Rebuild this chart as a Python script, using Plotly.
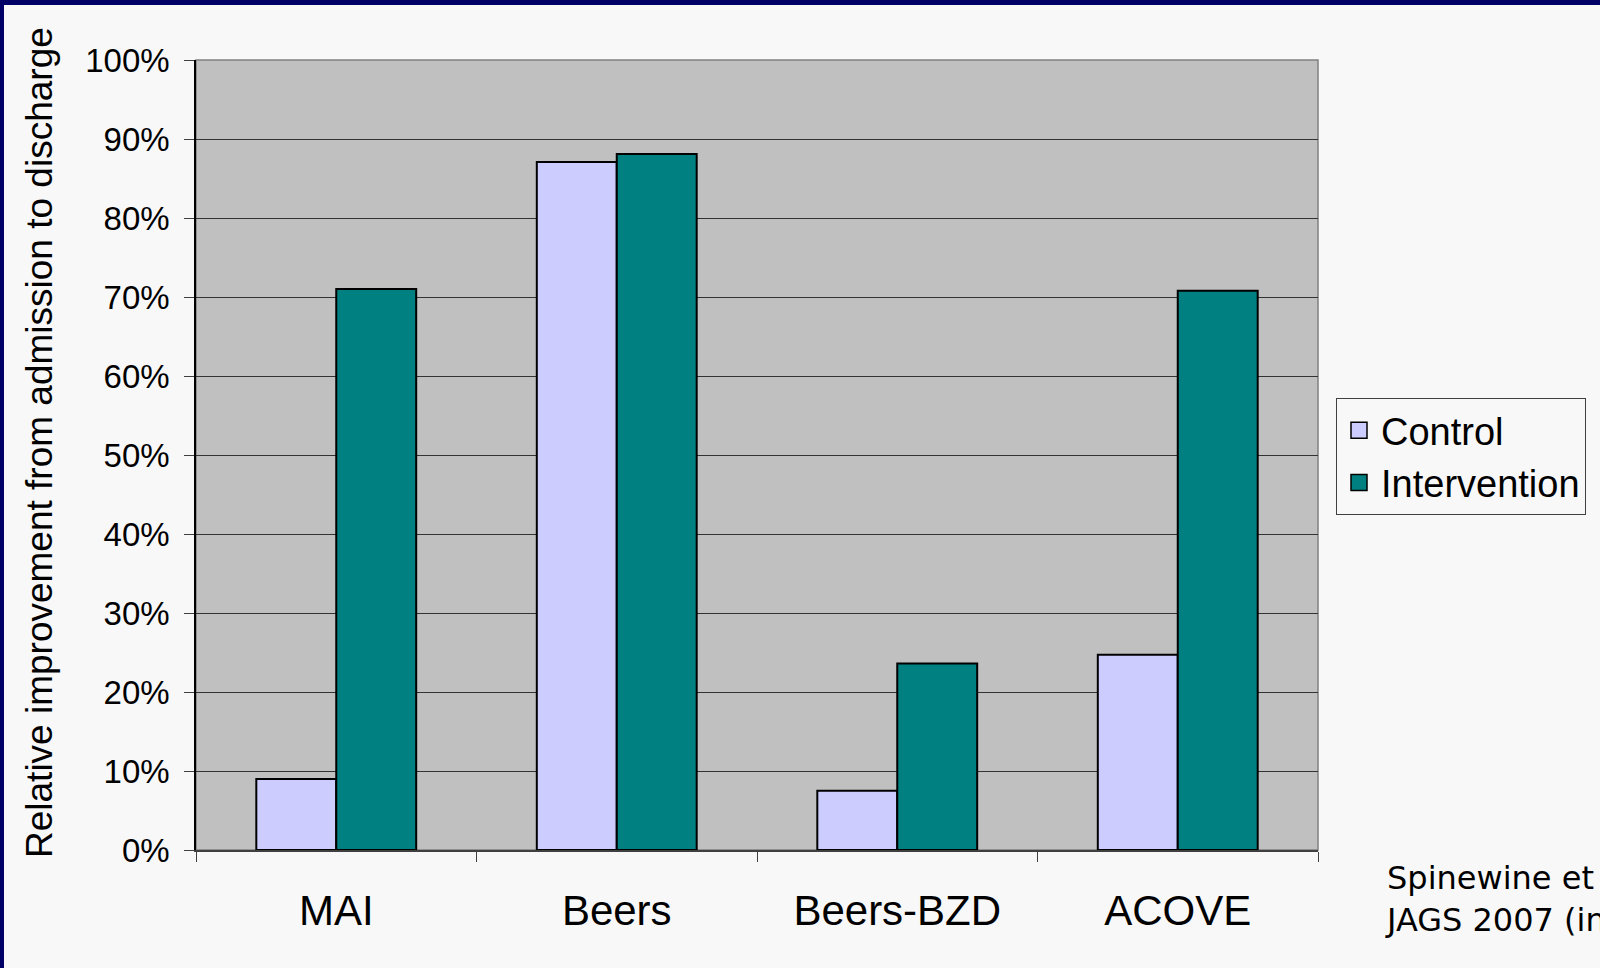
import plotly.graph_objects as go

categories = ["MAI", "Beers", "Beers-BZD", "ACOVE"]
control = [9.0, 87.1, 7.5, 24.7]
intervention = [71.0, 88.1, 23.6, 70.8]
y_ticks = list(range(0, 101, 10))
y_tick_labels = [f"{v}%" for v in y_ticks]

W, H = 1600, 968
L, R, T, B = 196, 1318, 60, 850
pw, ph = R - L, B - T

def px(x):
    return (x - L) / pw

def py(y):
    return (B - y) / ph

fig = go.Figure()
fig.add_trace(go.Bar(x=categories, y=control, name="Control",
                     marker=dict(color="#ccccff", line=dict(color="black", width=2)),
                     showlegend=False))
fig.add_trace(go.Bar(x=categories, y=intervention, name="Intervention",
                     marker=dict(color="#008080", line=dict(color="black", width=2)),
                     showlegend=False))
# legend proxies
fig.add_trace(go.Scatter(x=[None], y=[None], mode="markers", name="Control",
                         marker=dict(symbol="square", size=16, color="#ccccff",
                                     line=dict(color="black", width=1.5))))
fig.add_trace(go.Scatter(x=[None], y=[None], mode="markers", name="Intervention",
                         marker=dict(symbol="square", size=16, color="#008080",
                                     line=dict(color="black", width=1.5))))

shapes = [
    dict(type="rect", xref="paper", yref="paper", x0=0, x1=1, y0=0, y1=1,
         line=dict(color="#808080", width=1.5), fillcolor="rgba(0,0,0,0)", layer="below"),
    dict(type="rect", xref="paper", yref="paper", x0=px(0), x1=px(W), y0=py(0), y1=py(5),
         line=dict(width=0), fillcolor="#000066"),
    dict(type="rect", xref="paper", yref="paper", x0=px(0), x1=px(4), y0=py(0), y1=py(H),
         line=dict(width=0), fillcolor="#000066"),
]

fig.update_layout(
    width=W, height=H,
    margin=dict(l=L, r=W - R, t=T, b=H - B, autoexpand=False),
    paper_bgcolor="#f8f8f8",
    plot_bgcolor="#c0c0c0",
    barmode="group",
    bargap=0.43,
    bargroupgap=0,
    font=dict(family="Liberation Sans, Arial, sans-serif", color="black"),
    xaxis=dict(
        type="category", range=[-0.5, 3.5], tickson="boundaries",
        ticks="outside", ticklen=10, tickcolor="#404040", tickwidth=1,
        showline=True, linecolor="#404040", linewidth=1.5,
        showgrid=False, tickfont=dict(size=42), ticklabelstandoff=23,
    ),
    yaxis=dict(
        range=[0, 100], tickvals=y_ticks, ticktext=y_tick_labels,
        ticks="outside", ticklen=10, tickcolor="#404040", tickwidth=1,
        showline=True, linecolor="black", linewidth=1.5,
        showgrid=True, gridcolor="#333333", gridwidth=1,
        tickfont=dict(size=33), ticklabelstandoff=8, zeroline=False,
    ),
    legend=dict(
        x=px(1336), y=py(398), xanchor="left", yanchor="top",
        bgcolor="#f8f8f8", bordercolor="#404040", borderwidth=1,
        font=dict(size=38), itemwidth=34, tracegroupgap=0,
    ),
    shapes=shapes,
    annotations=[
        dict(text="Relative improvement from admission to discharge", xref="paper", yref="paper",
             x=px(39), y=py(443), xanchor="center", yanchor="middle", textangle=-90,
             showarrow=False, font=dict(size=37)),
        dict(text="Spinewine et al,<br>JAGS 2007 (in press)", xref="paper", yref="paper",
             x=px(1383), y=py(857), xanchor="left", yanchor="top", align="left",
             showarrow=False, font=dict(family="DejaVu Sans, Verdana, sans-serif", size=32, color="black")),
    ],
)

fig.write_html("out.html")
